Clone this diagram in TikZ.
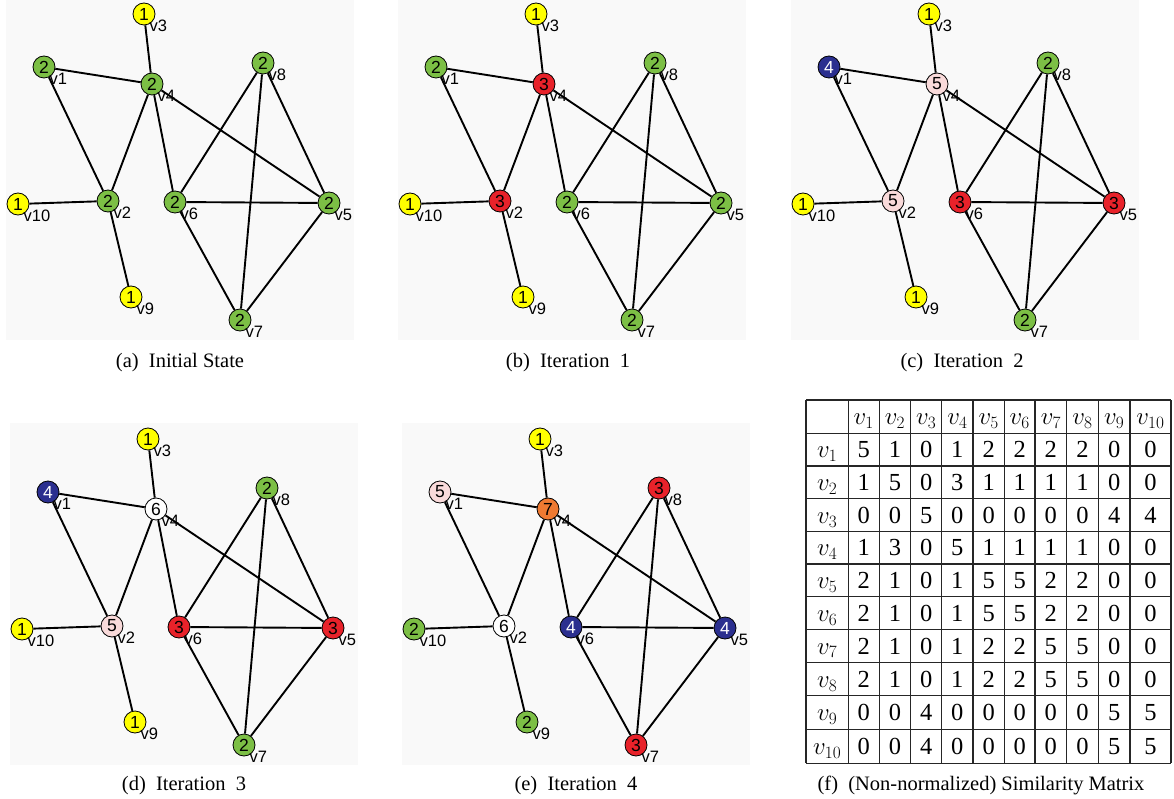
\documentclass[tikz,border=0pt]{standalone}
\usepackage{fontspec}
\setmainfont{Liberation Serif}
\newfontfamily\arialf{Liberation Sans}
\definecolor{ygr}{HTML}{FFFF00}
\definecolor{ggr}{HTML}{7CBF45}
\definecolor{rgr}{HTML}{E8222A}
\definecolor{bgr}{HTML}{2B2F8F}
\definecolor{pgr}{HTML}{F9DADA}
\definecolor{ogr}{HTML}{EF7A32}
\definecolor{wgr}{HTML}{FFFFFF}
\definecolor{panelbg}{HTML}{F9F9F9}
\tikzset{
  gn/.style={circle, draw=black, line width=0.8pt, minimum size=22pt, inner sep=0pt,
    font=\arialf\fontsize{17.5}{17.5}\selectfont},
  ny/.style={gn, fill=ygr},
  ng/.style={gn, fill=ggr},
  nr/.style={gn, fill=rgr},
  nb/.style={gn, fill=bgr, text=white},
  np/.style={gn, fill=pgr},
  no/.style={gn, fill=ogr},
  nw/.style={gn, fill=wgr},
  lab/.style={inner sep=0pt, anchor=base west, font=\arialf\fontsize{16.5}{16.5}\selectfont},
  edge/.style={line width=1.9pt, black},
  captxt/.style={inner sep=0pt, anchor=base, font=\fontsize{20.5}{22}\selectfont},
  celltxt/.style={inner sep=0pt, anchor=base, font=\fontsize{24.5}{26}\selectfont},
  gridln/.style={line width=1.4pt, black!85}
}
\newcommand\onegraph[3]{%
  \begin{scope}[shift={#2}]
    \fill[panelbg] (6,-2) rectangle (354,340);
    \coordinate (#1-1) at (44,67);
    \coordinate (#1-2) at (108,201);
    \coordinate (#1-3) at (144,14);
    \coordinate (#1-4) at (152,84);
    \coordinate (#1-5) at (329,203);
    \coordinate (#1-6) at (175,202);
    \coordinate (#1-7) at (240,320);
    \coordinate (#1-8) at (263,63);
    \coordinate (#1-9) at (131,297);
    \coordinate (#1-10) at (18,204);
    \foreach \i/\val/\sty in {#3} {
      \node[\sty] (#1\i) at (#1-\i) {\val};
      \node[lab] (#1l\i) at ([shift={(5.5,17.5)}]#1-\i) {v\i};
    }
    \foreach \a/\b in {3/4,1/4,1/2,4/2,4/6,4/5,2/10,2/9,8/6,8/7,8/5,6/5,6/7,5/7}
      \draw[edge] (#1\a) -- (#1\b);
  \end{scope}}
\begin{document}
\begin{tikzpicture}[x=1pt,y=-1pt]
\useasboundingbox (0,0) rectangle (1174,799);
\fill[white] (0,0) rectangle (1174,799);
\onegraph{a}{(0,0)}{1/2/ng,2/2/ng,3/1/ny,4/2/ng,5/2/ng,6/2/ng,7/2/ng,8/2/ng,9/1/ny,10/1/ny}
\onegraph{b}{(392,0)}{1/2/ng,2/3/nr,3/1/ny,4/3/nr,5/2/ng,6/2/ng,7/2/ng,8/2/ng,9/1/ny,10/1/ny}
\onegraph{c}{(785,0)}{1/4/nb,2/5/np,3/1/ny,4/5/np,5/3/nr,6/3/nr,7/2/ng,8/2/ng,9/1/ny,10/1/ny}
\onegraph{d}{(4,425)}{1/4/nb,2/5/np,3/1/ny,4/6/nw,5/3/nr,6/3/nr,7/2/ng,8/2/ng,9/1/ny,10/1/ny}
\onegraph{e}{(396,425)}{1/5/np,2/6/nw,3/1/ny,4/7/no,5/4/nb,6/4/nb,7/3/nr,8/3/nr,9/2/ng,10/2/ng}
% captions
\node[captxt] (capa) at (180,367) {(a)\ \ Initial\ State};
\node[captxt] (capb) at (568,367) {(b)\ \ Iteration\ \ 1};
\node[captxt] (capc) at (962,367) {(c)\ \ Iteration\ \ 2};
\node[captxt] (capd) at (184,790) {(d)\ \ Iteration\ \ 3};
\node[captxt] (cape) at (576,790) {(e)\ \ Iteration\ \ 4};
\node[captxt] (capf) at (981,790) {(f)\ \ (Non-normalized)\ Similarity\ Matrix};
% matrix grid
\foreach \xx in {806,848.3,879.3,910.7,941.7,973,1004.3,1035,1066.7,1098.3,1130,1171}
  \draw[gridln] (\xx,400) -- (\xx,763.3);
\foreach \yy in {400,433.3,466,498.7,531.3,564,596.7,629.3,662.5,695.5,729.5,763.3}
  \draw[gridln] (806,\yy) -- (1171,\yy);
\def\colc{{827.15,863.8,895,926.2,957.35,988.65,1019.65,1050.85,1082.5,1114.15,1150.5}}
\foreach \r/\yb [count=\ri] in {{5,1,0,1,2,2,2,2,0,0}/457.95,{1,5,0,3,1,1,1,1,0,0}/490.65,{0,0,5,0,0,0,0,0,4,4}/523.3,{1,3,0,5,1,1,1,1,0,0}/555.95,{2,1,0,1,5,5,2,2,0,0}/588.65,{2,1,0,1,5,5,2,2,0,0}/621.3,{2,1,0,1,2,2,5,5,0,0}/654.2,{2,1,0,1,2,2,5,5,0,0}/687.3,{0,0,4,0,0,0,0,0,5,5}/720.8,{0,0,4,0,0,0,0,0,5,5}/754.7} {
  \node[celltxt] (rh\ri) at (827.15,\yb) {$v_{\ri}$};
  \foreach \v [count=\ci] in \r {
    \pgfmathsetmacro\xc{\colc[\ci]}
    \node[celltxt] (m\ri-\ci) at (\xc,\yb) {\v};
  }
}
\foreach \ci in {1,...,10} {
  \pgfmathsetmacro\xc{\colc[\ci]}
  \node[celltxt] (ch\ci) at (\xc,424.95) {$v_{\ci}$};
}
\end{tikzpicture}
\end{document}
